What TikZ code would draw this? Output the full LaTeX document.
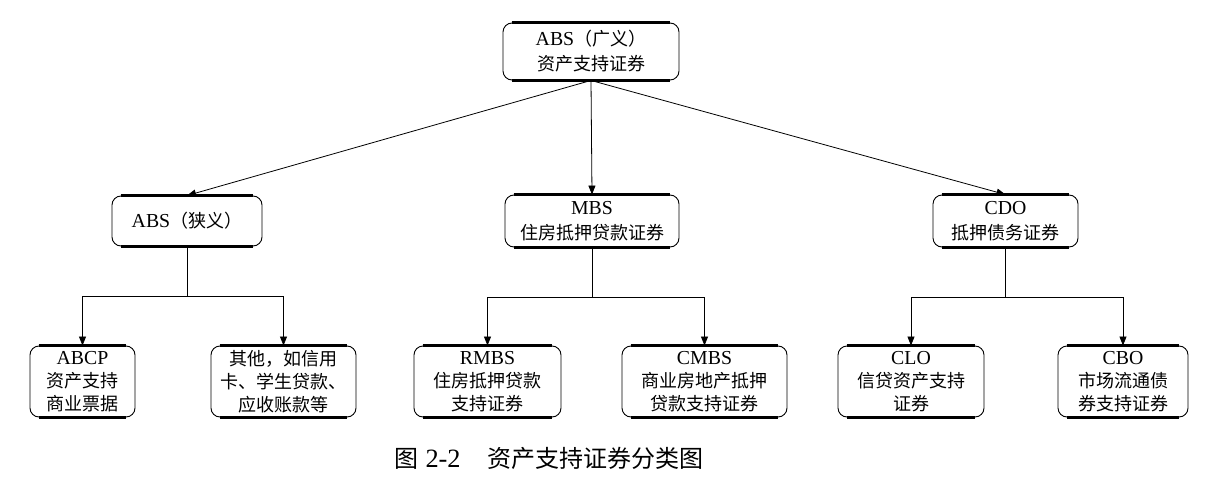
\documentclass[tikz,border=0pt]{standalone}
\usepackage{fontspec}
\setmainfont[Scale=1.1]{Liberation Serif}
\newfontfamily\cjk{Noto Sans CJK SC}
\usetikzlibrary{arrows.meta}
\newcommand\zh[1]{{\cjk #1}}
\begin{document}
\begin{tikzpicture}[x=1pt,y=-1pt,
 bx/.style={draw, line width=0.9pt, rounded corners=9pt, align=center, inner sep=0pt, font=\fontsize{18}{25}\selectfont},
 lo/.style={bx, minimum height=71pt, font=\fontsize{18}{23}\selectfont},
 ln/.style={line width=0.8pt},
 arr/.style={ln, -{Triangle[length=9pt,width=7pt]}},
 bus/.style={line width=1.6pt},
 edge/.style={line width=2.4pt}]
\useasboundingbox (0,0) rectangle (1208,487);
\node[bx, minimum width=176pt, minimum height=57pt] (root) at (591,51.5) {ABS\zh{（广义）}\\\zh{资产支持证券}};
\node[bx, minimum width=150pt, minimum height=50pt] (absn) at (187,221) {ABS\zh{（狭义）}};
\node[bx, minimum width=174pt, minimum height=52pt] (mbs) at (592,221) {MBS\\\zh{住房抵押贷款证券}};
\node[bx, minimum width=145pt, minimum height=52pt] (cdo) at (1005.5,221) {CDO\\\zh{抵押债务证券}};
\node[lo, minimum width=105pt] (abcp) at (82.5,381.5) {ABCP\\\zh{资产支持}\\\zh{商业票据}};
\node[lo, minimum width=145pt] (other) at (283.5,381.5) {\zh{其他，如信用}\\\zh{卡、学生贷款、}\\\zh{应收账款等}};
\node[lo, minimum width=147pt] (rmbs) at (487.5,381.5) {RMBS\\\zh{住房抵押贷款}\\\zh{支持证券}};
\node[lo, minimum width=165pt] (cmbs) at (704.5,381.5) {CMBS\\\zh{商业房地产抵押}\\\zh{贷款支持证券}};
\node[lo, minimum width=146pt] (clo) at (911,381.5) {CLO\\\zh{信贷资产支持}\\\zh{证券}};
\node[lo, minimum width=130pt] (cbo) at (1123,381.5) {CBO\\\zh{市场流通债}\\\zh{券支持证券}};
\foreach \n in {root,absn,mbs,cdo,abcp,other,rmbs,cmbs,clo,cbo}{
  \draw[edge] ([xshift=9pt]\n.north west) -- ([xshift=-9pt]\n.north east);
  \draw[edge] ([xshift=9pt]\n.south west) -- ([xshift=-9pt]\n.south east);
}
\draw[arr] (root.south) -- (absn.north);
\draw[arr] (root.south) -- (mbs.north);
\draw[arr] (root.south) -- (cdo.north);
\foreach \p/\a/\b in {absn/abcp/other, mbs/rmbs/cmbs, cdo/clo/cbo}{
  \draw[ln] (\p.south) -- ++(0,50) coordinate (\p-bus);
  \draw[bus] (\a.north |- \p-bus) -- (\b.north |- \p-bus);
  \draw[arr] (\a.north |- \p-bus) -- (\a.north);
  \draw[arr] (\b.north |- \p-bus) -- (\b.north);
}
\node[font=\fontsize{24}{28}\selectfont] (cap) at (549,458) {\zh{图}~2-2\hspace{1em}\zh{资产支持证券分类图}};
\end{tikzpicture}
\end{document}
